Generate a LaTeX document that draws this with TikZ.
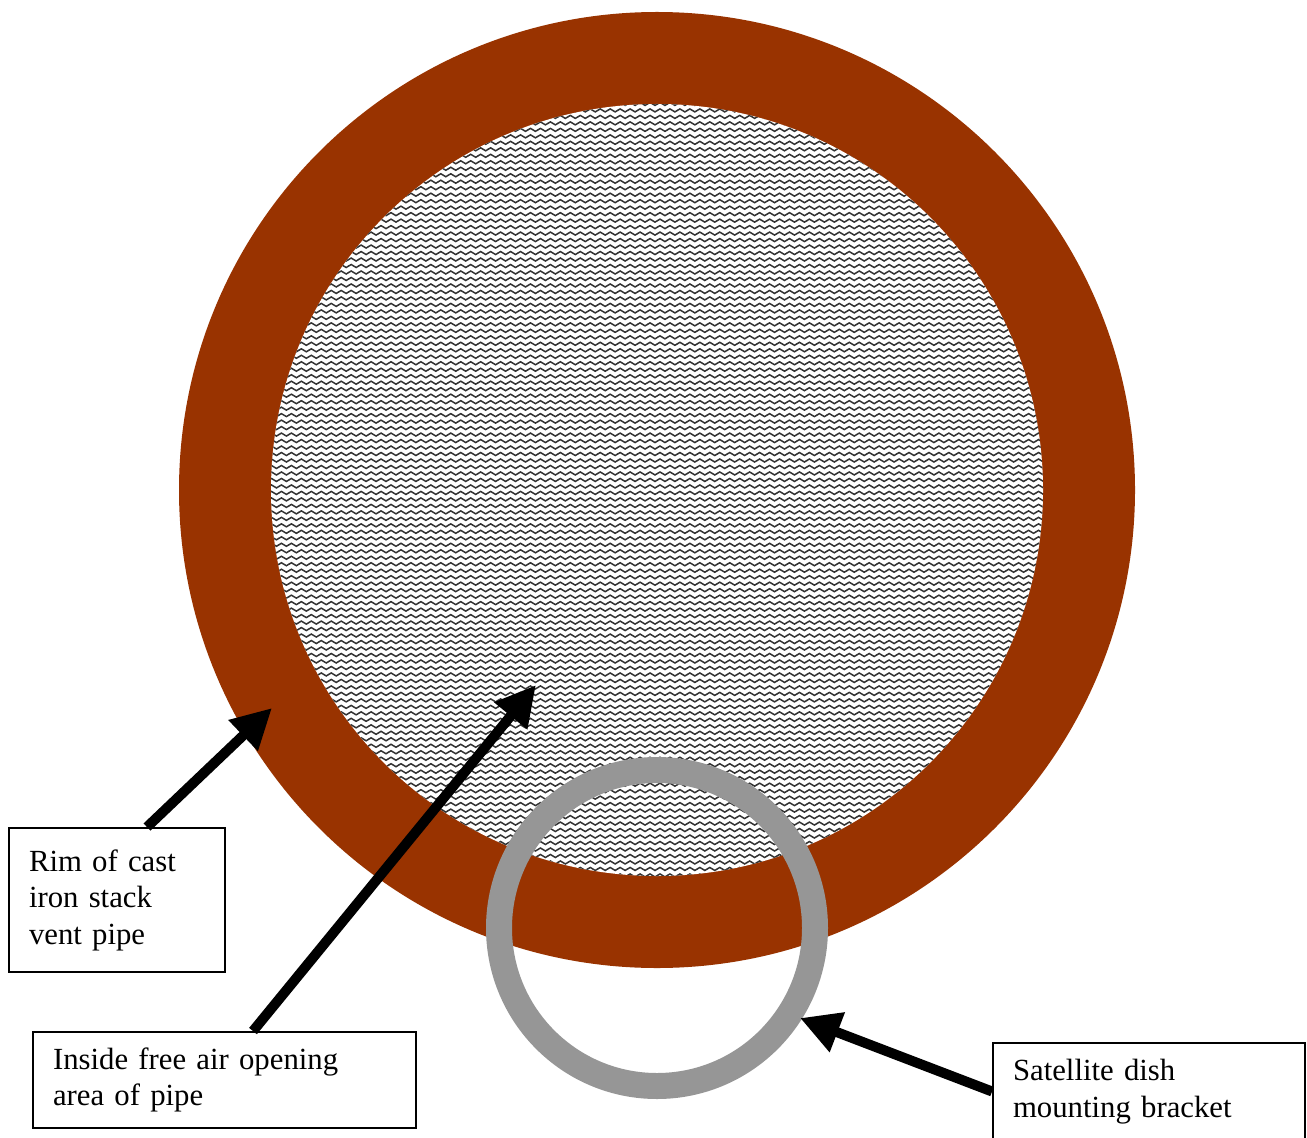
\documentclass[tikz,border=0pt]{standalone}
\usepackage{fontspec}
\setmainfont{Liberation Serif}
\usepackage{tikz}
\usetikzlibrary{arrows.meta,patterns}
\definecolor{rust}{HTML}{993300}
\definecolor{ringgray}{HTML}{969696}
% wavy line fill for the open area
\pgfdeclarepatternformonly{wavelines}{\pgfqpoint{-1pt}{-1pt}}{\pgfqpoint{6.67pt}{4.69pt}}{\pgfqpoint{5.67pt}{3.69pt}}{%
  \pgfsetlinewidth{0.85pt}\pgfsetroundcap
  \pgfpathmoveto{\pgfqpoint{0pt}{1.84pt}}%
  \pgfpathcurveto{\pgfqpoint{0.95pt}{2.97pt}}{\pgfqpoint{1.9pt}{2.97pt}}{\pgfqpoint{2.835pt}{1.84pt}}%
  \pgfpathcurveto{\pgfqpoint{3.78pt}{0.71pt}}{\pgfqpoint{4.72pt}{0.71pt}}{\pgfqpoint{5.67pt}{1.84pt}}%
  \pgfusepath{stroke}}

\begin{document}
\begin{tikzpicture}[x=0.02cm,y=-0.02cm,
  callout/.style={draw=black,line width=1.1pt,fill=white,align=left,inner xsep=0.4cm,
    font=\fontsize{17.5pt}{20.8pt}\selectfont},
  pointer/.style={-{Triangle[length=0.8cm,width=0.8cm]},line width=0.2cm,black}]
\useasboundingbox (0,0) rectangle (1307,1138);
% pipe rim and opening
\fill[rust] (657,490) circle[radius=478];
\fill[white] (657,490) circle[radius=386];
\fill[pattern=wavelines,pattern color=black!80] (657,490) circle[radius=386];
% bracket ring
\draw[ringgray,line width=0.52cm] (657,928) circle[radius=158];
\coordinate (rimtip) at (272,708);
\coordinate (airtip) at (536,685);
\coordinate (brackettip) at (800,1018);
\node[callout,text width=3.52cm,minimum height=2.88cm] (rimbox) at (117,900) {Rim of cast\\iron stack\\vent pipe};
\node[callout,text width=6.86cm,minimum height=1.92cm] (airbox) at (224.5,1080) {Inside free air opening\\area of pipe};
\node[callout,text width=5.44cm,minimum height=1.94cm] (bracketbox) at (1149,1091.5) {Satellite dish\\mounting bracket};
\draw[pointer] ([xshift=0.6cm]rimbox.north) -- (rimtip);
\draw[pointer] ([xshift=0.57cm]airbox.north) -- (airtip);
\draw[pointer] (bracketbox.west) -- (brackettip);
\end{tikzpicture}
\end{document}
